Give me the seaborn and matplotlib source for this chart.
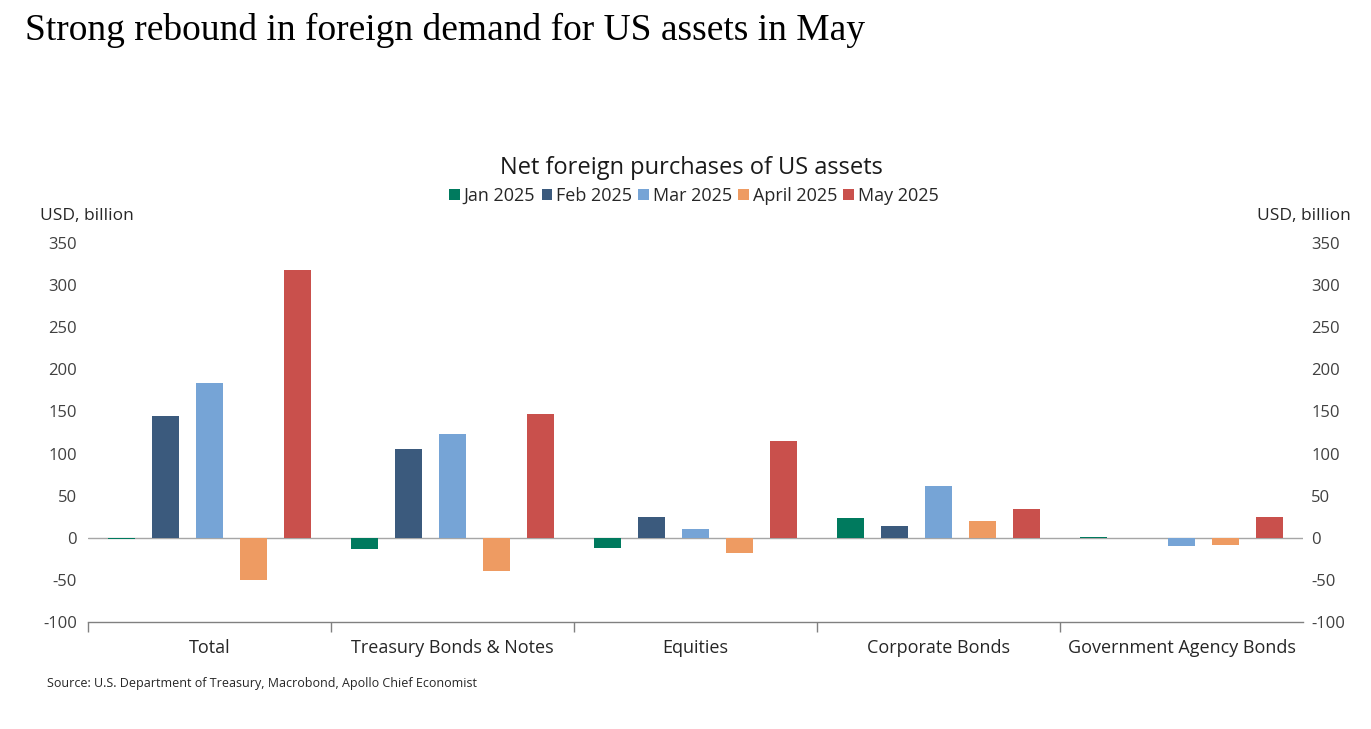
import matplotlib
matplotlib.use("Agg")
import matplotlib.pyplot as plt
import seaborn as sns
import pandas as pd
import numpy as np

categories = ["Total", "Treasury Bonds & Notes", "Equities", "Corporate Bonds", "Government Agency Bonds"]
months = ["Jan 2025", "Feb 2025", "Mar 2025", "April 2025", "May 2025"]
jan_2025 = [-1, -13, -12, 24, 0.5]
feb_2025 = [145, 106, 25, 14, -0.5]
mar_2025 = [184, 123, 11, 61, -10]
apr_2025 = [-50, -40, -18, 20, -9]
may_2025 = [318, 147, 115, 34, 25]
colors = ["#007A5E", "#3B5A7D", "#76A4D6", "#EE9B62", "#C9504C"]
yticks = [-100, -50, 0, 50, 100, 150, 200, 250, 300, 350]

series = [jan_2025, feb_2025, mar_2025, apr_2025, may_2025]
rows = []
for m, vals in zip(months, series):
    for c, v in zip(categories, vals):
        rows.append({"Category": c, "Month": m, "Value": v})
df = pd.DataFrame(rows)

sns.set_theme(style="white")
plt.rcParams['font.family'] = ['Open Sans', 'DejaVu Sans']

fig = plt.figure(figsize=(13.71, 7.29), dpi=100)
ax = fig.add_axes([88/1371, 1-622/729, (1303-88)/1371, (622-243)/729])

sns.barplot(data=df, x="Category", y="Value", hue="Month", order=categories,
            hue_order=months, palette=colors, saturation=1, width=0.905, gap=0.4,
            edgecolor="none", linewidth=0, ax=ax, legend=True)

ax.set_ylim(-100, 350)
ax.set_xlim(-0.5, 4.5)
ax.set_yticks(yticks)
ax.set_yticklabels([str(t) for t in yticks], fontsize=12, color="#404040")
ax.set_xlabel("")
ax.set_ylabel("")
ax.axhline(0, color="#A6A6A6", linewidth=1.0, zorder=0.5)

for s in ["top", "right", "left"]:
    ax.spines[s].set_visible(False)
ax.spines["bottom"].set_color("#808080")
ax.spines["bottom"].set_linewidth(1.0)

ax.set_xticks(range(len(categories)))
ax.set_xticklabels(categories, fontsize=13, color="#262626")
ax.tick_params(axis="x", which="major", length=0, pad=12, bottom=False)
ax.set_xticks([-0.5, 0.5, 1.5, 2.5, 3.5], minor=True)
ax.tick_params(axis="x", which="minor", length=7, width=1, color="#808080",
               direction="out", bottom=True)
ax.tick_params(axis="y", length=0, pad=8)

ax2 = ax.twinx()
ax2.set_ylim(-100, 350)
ax2.set_yticks(yticks)
ax2.set_yticklabels([str(t) for t in yticks], fontsize=12, color="#404040")
ax2.tick_params(axis="y", length=0, pad=6)
for s in ["top", "right", "left", "bottom"]:
    ax2.spines[s].set_visible(False)

leg = ax.legend(loc="center", bbox_to_anchor=(694/1371, 1-196/729), bbox_transform=fig.transFigure,
                ncol=5, frameon=False, fontsize=13, handlelength=0.6, handleheight=0.6,
                handletextpad=0.2, columnspacing=0.35, borderaxespad=0)
for h in leg.legend_handles:
    h.set_edgecolor("none")

fig.text(25/1371, 1-30/729, "Strong rebound in foreign demand for US assets in May",
         fontsize=27, family="Liberation Serif", va="center", ha="left", color="black")
fig.text(691/1371, 1-168/729, "Net foreign purchases of US assets", fontsize=17,
         va="center", ha="center", color="#1a1a1a")
fig.text(40/1371, 1-216/729, "USD, billion", fontsize=12.5, va="center", ha="left", color="#262626")
fig.text(1351/1371, 1-216/729, "USD, billion", fontsize=12.5, va="center", ha="right", color="#262626")
fig.text(47/1371, 1-684/729, "Source: U.S. Department of Treasury, Macrobond, Apollo Chief Economist",
         fontsize=9, va="center", ha="left", color="#262626")

fig.savefig("out.png", dpi=100)
